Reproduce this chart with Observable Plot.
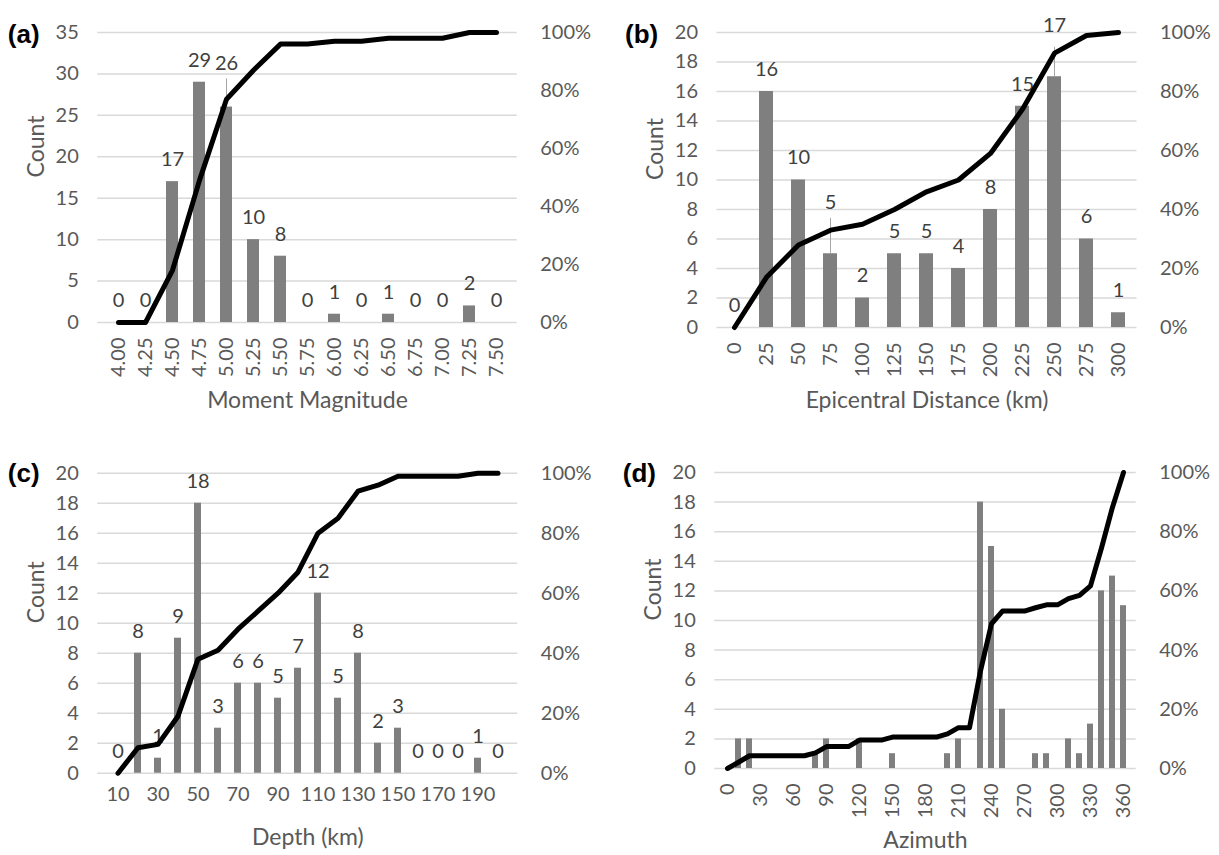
<!DOCTYPE html>
<html>
<head>
<meta charset="utf-8">
<script src="https://cdn.jsdelivr.net/npm/d3@7"></script>
<script src="https://cdn.jsdelivr.net/npm/@observablehq/plot@0.6"></script>
<style>
  html, body { margin: 0; padding: 0; background: #fff; }
  #wrap { position: relative; width: 1219px; height: 855px; overflow: hidden; background: #fff; }
  .panel { position: absolute; width: 609px; height: 427px; }
  .panel svg { max-width: none !important; overflow: visible; }
</style>
</head>
<body>
<div id="wrap">
  <div class="panel" id="pa" style="left:0px;top:0px"></div>
  <div class="panel" id="pb" style="left:610px;top:0px"></div>
  <div class="panel" id="pc" style="left:0px;top:428px"></div>
  <div class="panel" id="pd" style="left:610px;top:428px"></div>
</div>
<script>
// ---------- data ----------
// (a) Moment magnitude
const magCats = ["4.00","4.25","4.50","4.75","5.00","5.25","5.50","5.75","6.00","6.25","6.50","6.75","7.00","7.25","7.50"];
const magCounts = [0,0,17,29,26,10,8,0,1,0,1,0,0,2,0];
const magCumPct = [0,0,18,49,77,87,96,96,97,97,98,98,98,100,100];

// (b) Epicentral distance (km)
const distCats = ["0","25","50","75","100","125","150","175","200","225","250","275","300"];
const distCounts = [0,16,10,5,2,5,5,4,8,15,17,6,1];
const distCumPct = [0,17,28,33,35,40,46,50,59,74,93,99,100];

// (c) Depth (km)
const depthCats = ["10","20","30","40","50","60","70","80","90","100","110","120","130","140","150","160","170","180","190","200"];
const depthCounts = [0,8,1,9,18,3,6,6,5,7,12,5,8,2,3,0,0,0,1,0];
const depthCumPct = [0,8.5,9.6,19,38,41,48,54,60,67,80,85,94,96,99,99,99,99,100,100];

// (d) Azimuth
const azCats = ["0","10","20","30","40","50","60","70","80","90","100","110","120","130","140","150","160","170","180","190","200","210","220","230","240","250","260","270","280","290","300","310","320","330","340","350","360"];
const azCounts = [0,2,2,0,0,0,0,0,1,2,0,0,2,0,0,1,0,0,0,0,1,2,0,18,15,4,0,0,1,1,0,2,1,3,12,13,11];
const azCumPct = [0,2.1,4.3,4.3,4.3,4.3,4.3,4.3,5.3,7.4,7.4,7.4,9.6,9.6,9.6,10.6,10.6,10.6,10.6,10.6,11.7,13.8,13.8,33.0,48.9,53.2,53.2,53.2,54.3,55.3,55.3,57.4,58.5,61.7,74.5,88.3,100];

// labels that were dragged above the line in the original (count-axis units), with leader lines
const movedLabels = {
  a: [{cat: "5.00", at: 31.3, from: 29.4, to: 26}],
  b: [{cat: "75", at: 8.45, from: 7.4, to: 5}, {cat: "250", at: 20.5, from: 19.0, to: 17}],
  c: [],
  d: []
};

// ---------- drawing ----------
const FONT = "Lato, 'Open Sans', sans-serif";
const GRID = "#d9d9d9";
const BAR = "#7f7f7f";
const TXT = "#595959";
const LBL = "#404040";

function panel(cfg) {
  const {cats, counts, cum, ymax, yStep, pad, m, xTicks, rotate, tickPad, letter, xTitle, xTitleDy, showLabels, moved} = cfg;
  const rows = cats.map((c, i) => ({cat: c, count: counts[i], cum: cum[i] / 100 * ymax}));
  const leftTicks = d3.range(0, ymax + 1e-9, yStep);
  const rightTicks = d3.range(0, 6).map(k => k * ymax / 5);
  const movedSet = new Set(moved.map(d => d.cat));
  const labelRows = showLabels ? rows.filter(r => !movedSet.has(r.cat)) : [];
  const movedRows = moved.map(d => ({...d, count: counts[cats.indexOf(d.cat)]}));
  const W = 609, H = 427;
  return Plot.plot({
    width: W, height: H,
    marginLeft: m[0], marginRight: W - m[1], marginTop: m[2], marginBottom: H - m[3],
    style: {fontFamily: FONT, fontSize: "20px", color: TXT, background: "transparent", overflow: "visible"},
    x: {type: "band", domain: cats, paddingInner: pad, paddingOuter: pad / 2},
    y: {domain: [0, ymax]},
    marks: [
      Plot.gridY({ticks: leftTicks, stroke: GRID, strokeOpacity: 1, strokeWidth: 1.5}),
      Plot.barY(rows, {x: "cat", y: "count", fill: BAR}),
      Plot.ruleX(movedRows, {x: "cat", y1: "from", y2: "to", stroke: "#a6a6a6", strokeWidth: 1}),
      Plot.text(labelRows, {x: "cat", y: "count", text: d => String(d.count), dy: -22, fill: LBL, fontSize: 20}),
      Plot.text(movedRows, {x: "cat", y: "at", text: d => String(d.count), fill: LBL, fontSize: 20}),
      Plot.line(rows, {x: "cat", y: "cum", stroke: "#000", strokeWidth: 5, strokeLinejoin: "round", curve: "linear"}),
      Plot.axisY({anchor: "left", ticks: leftTicks, tickSize: 0, tickPadding: 19, label: null, fill: TXT}),
      Plot.axisY({anchor: "right", ticks: rightTicks, tickSize: 0, tickPadding: 23, label: null, fill: TXT,
                  tickFormat: d => Math.round(d / ymax * 100) + "%"}),
      Plot.axisX({ticks: xTicks, tickSize: 0, tickPadding: tickPad, tickRotate: rotate, label: null, fill: TXT}),
      Plot.text([xTitle], {frameAnchor: "bottom", dy: xTitleDy, fill: TXT, fontSize: 23}),
      Plot.text(["Count"], {frameAnchor: "left", dx: -61, rotate: -90, fill: TXT, fontSize: 23}),
      Plot.text([letter], {frameAnchor: "top-left", textAnchor: "start", dx: cfg.letterDx, dy: cfg.letterDy,
                           fill: "#000", fontSize: 26, fontWeight: "bold", fontFamily: "'Liberation Sans', Arial, sans-serif"})
    ]
  });
}

document.getElementById("pa").append(panel({
  cats: magCats, counts: magCounts, cum: magCumPct, ymax: 35, yStep: 5, pad: 0.56,
  m: [97.3, 516.7, 32, 322], xTicks: magCats, rotate: -90, tickPad: 15,
  letter: "(a)", letterDx: -90, letterDy: -8, xTitle: "Moment Magnitude", xTitleDy: 85,
  showLabels: true, moved: movedLabels.a
}));
document.getElementById("pb").append(panel({
  cats: distCats, counts: distCounts, cum: distCumPct, ymax: 20, yStep: 2, pad: 0.56,
  m: [106.5, 526.5, 32, 327], xTicks: distCats, rotate: -90, tickPad: 15,
  letter: "(b)", letterDx: -92, letterDy: -8, xTitle: "Epicentral Distance (km)", xTitleDy: 80,
  showLabels: true, moved: movedLabels.b
}));
document.getElementById("pc").append(panel({
  cats: depthCats, counts: depthCounts, cum: depthCumPct, ymax: 20, yStep: 2, pad: 0.64,
  m: [97.3, 517.3, 44.7, 344.7], xTicks: depthCats.filter((d, i) => i % 2 === 0), rotate: 0, tickPad: 14,
  letter: "(c)", letterDx: -90, letterDy: -10, xTitle: "Depth (km)", xTitleDy: 72,
  showLabels: true, moved: movedLabels.c
}));
document.getElementById("pd").append(panel({
  cats: azCats, counts: azCounts, cum: azCumPct, ymax: 20, yStep: 2, pad: 0.41,
  m: [104.3, 525.7, 44, 340], xTicks: azCats.filter((d, i) => i % 3 === 0), rotate: -90, tickPad: 15,
  letter: "(d)", letterDx: -92, letterDy: -9, xTitle: "Azimuth", xTitleDy: 79,
  showLabels: false, moved: movedLabels.d
}));
</script>
</body>
</html>
